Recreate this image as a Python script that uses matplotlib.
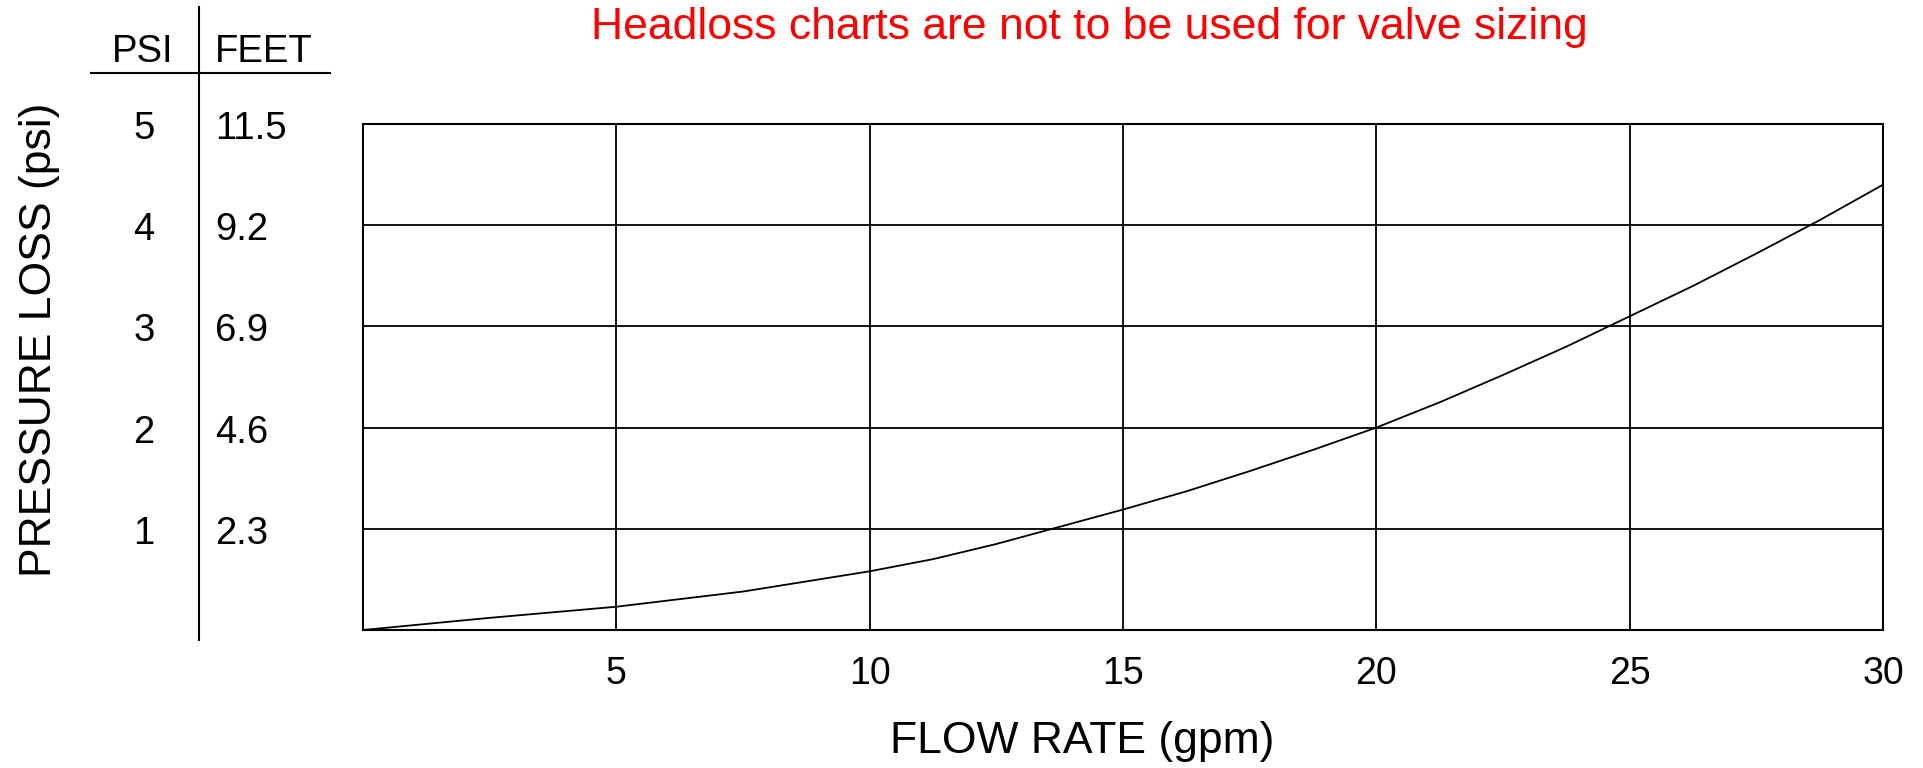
import matplotlib
matplotlib.use("Agg")
import matplotlib.pyplot as plt
import matplotlib.transforms as mtrans
from matplotlib.lines import Line2D

plt.rcParams['font.family'] = ['Liberation Sans', 'DejaVu Sans']

# curve
flow = [0, 2.5, 5, 7.5, 10, 11.25, 12.5, 13.75, 15, 16.25, 17.5, 18.75,
        20, 21.25, 22.5, 23.75, 25, 26.25, 27.5, 28.75, 30]
psi = [0, 0.12, 0.23, 0.38, 0.58, 0.70, 0.85, 1.02, 1.19, 1.37, 1.57, 1.78,
       2.0, 2.25, 2.52, 2.80, 3.10, 3.40, 3.72, 4.05, 4.40]

# x ticks and the psi/feet conversion table
xticks = [5, 10, 15, 20, 25, 30]
psi_rows = [5, 4, 3, 2, 1]
feet_rows = ['11.5', '9.2', '6.9', '4.6', '2.3']

W, H = 1923, 768
fig = plt.figure(figsize=(W/100, H/100), dpi=100)
ax = fig.add_axes([363/W, 1-630/H, (1883-363)/W, (630-124)/H])

ax.plot(flow, psi, color='black', lw=1.3)
ax.set_xlim(0, 30)
ax.set_ylim(0, 5)
ax.set_xticks(xticks)
ax.set_xticklabels([str(t) for t in xticks], fontsize=27)
ax.set_yticks([1, 2, 3, 4])
ax.set_yticklabels([])
ax.tick_params(length=0, pad=19)
ax.grid(True, color='black', lw=1.3)
for s in ax.spines.values():
    s.set_linewidth(1.5)

fig.text(1082/W, 1-742/H, 'FLOW RATE (gpm)', fontsize=32, ha='center', va='center')
fig.text(1089/W, 1-27/H, 'Headloss charts are not to be used for valve sizing',
         color='red', fontsize=32, ha='center', va='center')
fig.text(40/W, 1-340/H, 'PRESSURE LOSS (psi)', fontsize=32, rotation=90,
         ha='center', va='center')

# conversion table on the left
fig.text(143/W, 1-52/H, 'PSI', fontsize=27.5, ha='center', va='center')
fig.text(215/W, 1-52/H, 'FEET', fontsize=27.5, ha='left', va='center')
tr = mtrans.blended_transform_factory(fig.transFigure, ax.transData) + \
    mtrans.ScaledTranslation(0, -0.05, fig.dpi_scale_trans)
for p, f in zip(psi_rows, feet_rows):
    fig.text(144/W, p, str(p), fontsize=27.5, ha='center', va='center', transform=tr)
    fig.text(215/W, p, f, fontsize=27.5, ha='left', va='center', transform=tr)

fig.add_artist(Line2D([199/W, 199/W], [1-7/H, 1-640/H], color='black', lw=1.5))
fig.add_artist(Line2D([91/W, 330/W], [1-73/H, 1-73/H], color='black', lw=1.5))

fig.savefig('out.png', dpi=100)
